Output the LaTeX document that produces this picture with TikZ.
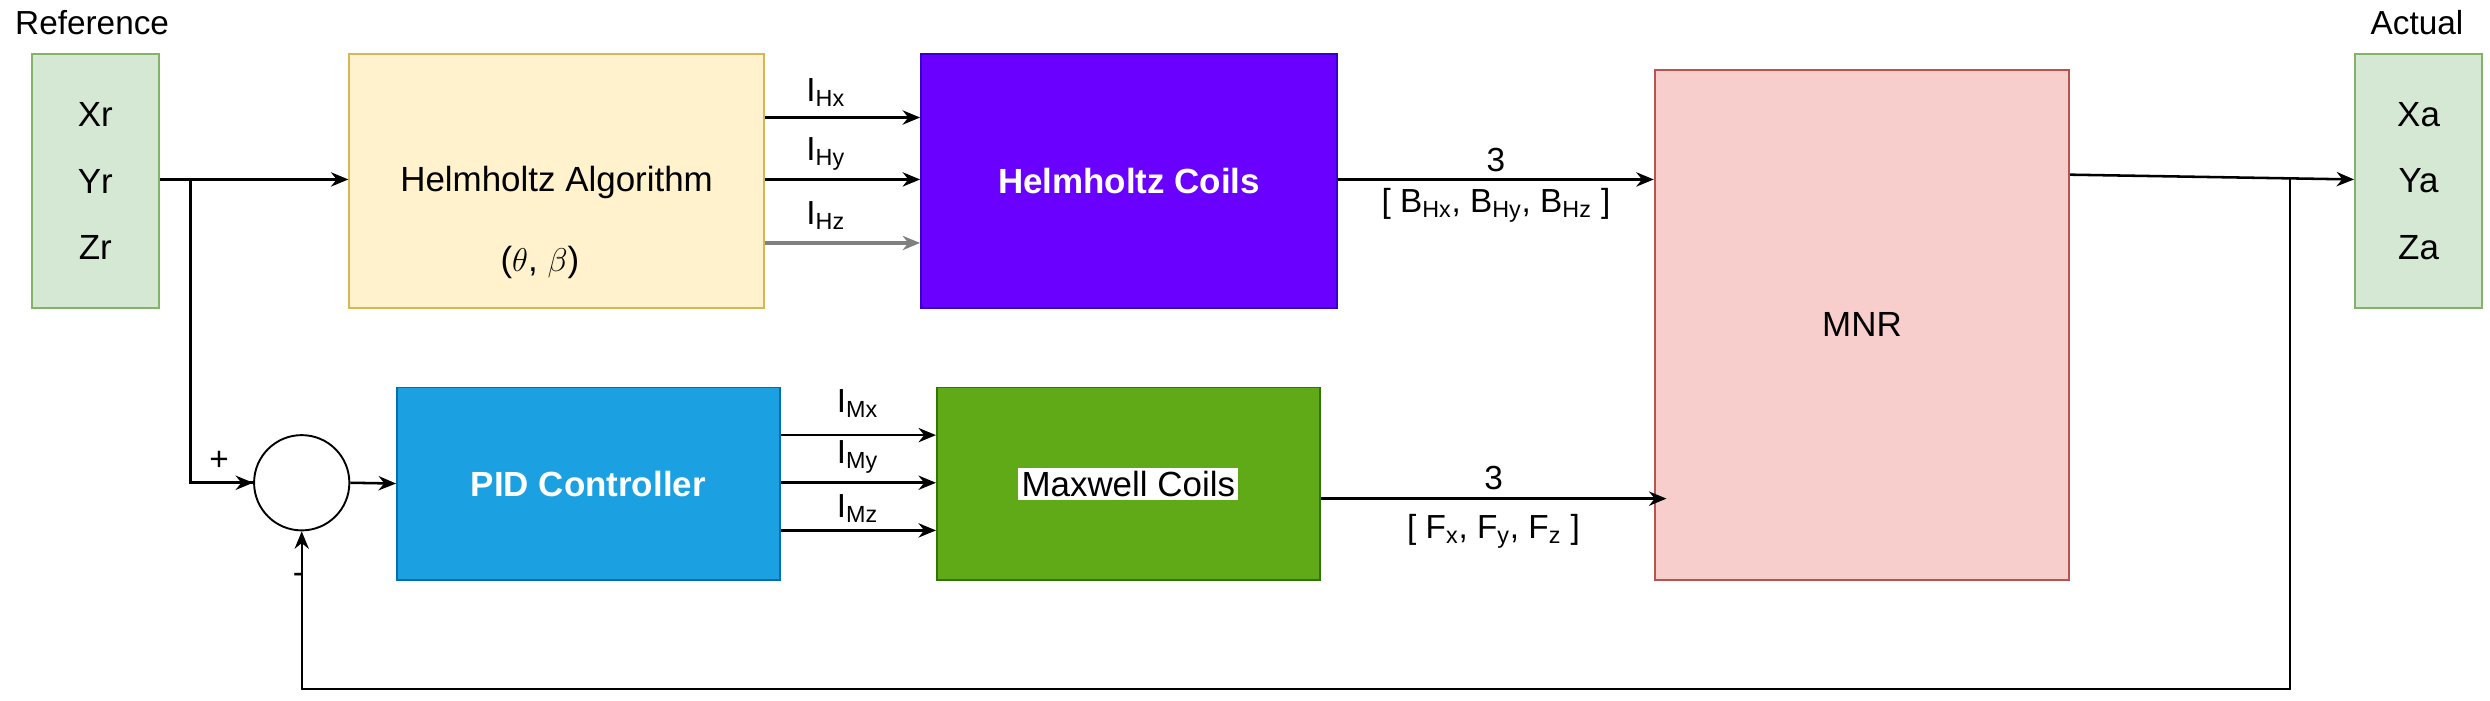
\documentclass[tikz,border=0pt]{standalone}
\usepackage{fontspec}
\setmainfont{Liberation Sans}
\usetikzlibrary{arrows.meta}
\definecolor{grnfill}{HTML}{D5E8D4}
\definecolor{grnline}{HTML}{82B366}
\definecolor{yelfill}{HTML}{FFF2CC}
\definecolor{yelline}{HTML}{D6B656}
\definecolor{violet}{HTML}{6A00FF}
\definecolor{violetline}{HTML}{3700CC}
\definecolor{redfill}{HTML}{F8CECC}
\definecolor{redline}{HTML}{B85450}
\definecolor{blufill}{HTML}{1BA1E2}
\definecolor{bluline}{HTML}{006EAF}
\definecolor{limefill}{HTML}{60A917}
\definecolor{limeline}{HTML}{2D7600}
\tikzset{
  blk/.style={draw, line width=1.2pt, inner sep=0pt, font=\fontsize{22}{26}\selectfont},
  lbl/.style={font=\fontsize{21}{24}\selectfont, inner sep=1pt},
  sig/.style={-{Stealth[length=11pt,width=9pt]}, line width=1.6pt},
}
\begin{document}
\begin{tikzpicture}[x=1pt,y=-1pt]
\useasboundingbox (0,0) rectangle (1568,441.4);
% blocks
\node[blk, fill=grnfill, draw=grnline, minimum width=80pt, minimum height=160pt, align=center] (ref) at (60,114) {Xr\\[16pt]Yr\\[16pt]Zr};
\node[blk, fill=grnfill, draw=grnline, minimum width=80pt, minimum height=160pt, align=center] (act) at (1523,114) {Xa\\[16pt]Ya\\[16pt]Za};
\node[font=\fontsize{21}{24}\selectfont] (reflbl) at (58,14) {Reference};
\node[font=\fontsize{21}{24}\selectfont] (actlbl) at (1522,14) {Actual};
\node[blk, fill=yelfill, draw=yelline, minimum width=261pt, minimum height=160pt] (ha) at (350.5,114) {};
\node[font=\fontsize{22}{26}\selectfont] (hatxt) at (350.5,115) {Helmholtz Algorithm};
\node[font=\fontsize{22}{26}\selectfont] (hapar) at (340,165) {($\theta$, $\beta$)};
\node[blk, fill=violet, draw=violetline, text=white, minimum width=262pt, minimum height=160pt, font=\fontsize{22}{26}\bfseries] (hc) at (711,114) {Helmholtz Coils};
\node[blk, fill=redfill, draw=redline, minimum width=261pt, minimum height=321pt] (mnr) at (1172.5,204.5) {MNR};
\node[blk, fill=blufill, draw=bluline, text=white, minimum width=241pt, minimum height=121pt, font=\fontsize{22}{26}\bfseries] (pid) at (370.5,304.5) {PID Controller};
\node[blk, fill=limefill, draw=limeline, minimum width=241pt, minimum height=121pt] (mc) at (710.5,304.5) {};
\node[fill=white, inner sep=2pt, font=\fontsize{22}{26}\selectfont] (mctxt) at (710.5,304.5) {Maxwell Coils};
\node[draw, circle, line width=1.2pt, minimum size=60pt, inner sep=0pt] (sum) at (190,304) {};
% helper points
\coordinate (split) at (120,113);
\coordinate (fb) at (1442,113);
% connections
\draw[sig] (ref.east |- split) -- (ha.west |- split);
\draw[line width=1.6pt] (split) |- (sum.west) ;
\draw[sig] (split |- sum.west) ++(0,0) -- (sum.west);
\draw[sig] (sum.east) -- (pid.west);
\foreach \y/\s in {74/x,113/y} {
  \draw[sig] (ha.east |- 0,\y) -- (hc.west |- 0,\y);
}
\draw[sig, draw=gray, line width=3pt] (ha.east |- 0,153) -- (hc.west |- 0,153);
\node[lbl] (ihx) at (520,58) {I\textsubscript{Hx}};
\node[lbl] (ihy) at (520,97) {I\textsubscript{Hy}};
\node[lbl] (ihz) at (520,136) {I\textsubscript{Hz}};
\foreach \y in {274,304,334} {
  \draw[sig] (pid.east |- 0,\y) -- (mc.west |- 0,\y);
}
\node[lbl] (imx) at (540,254) {I\textsubscript{Mx}};
\node[lbl] (imy) at (540,288) {I\textsubscript{My}};
\node[lbl] (imz) at (540,320) {I\textsubscript{Mz}};
\draw[sig] (hc.east |- 0,113) -- node[lbl, above=3pt] {3} node[lbl, below=4pt] {[ B\textsubscript{Hx}, B\textsubscript{Hy}, B\textsubscript{Hz} ]} (mnr.west |- 0,113);
\draw[sig] (mc.east |- 0,314) -- node[lbl, above=4pt] {3} node[lbl, below=8pt] {[ F\textsubscript{x}, F\textsubscript{y}, F\textsubscript{z} ]} ([xshift=8pt]mnr.west |- 0,314);
\draw[sig] (mnr.east |- 0,110) -- (act.west |- 0,113);
\draw[sig, line width=1.2pt] (fb) -- (1442,434) -| (sum.south);
\node[lbl] (plus) at (138,290) {+};
\node[lbl] (minus) at (188,364) {-};
\end{tikzpicture}
\end{document}
